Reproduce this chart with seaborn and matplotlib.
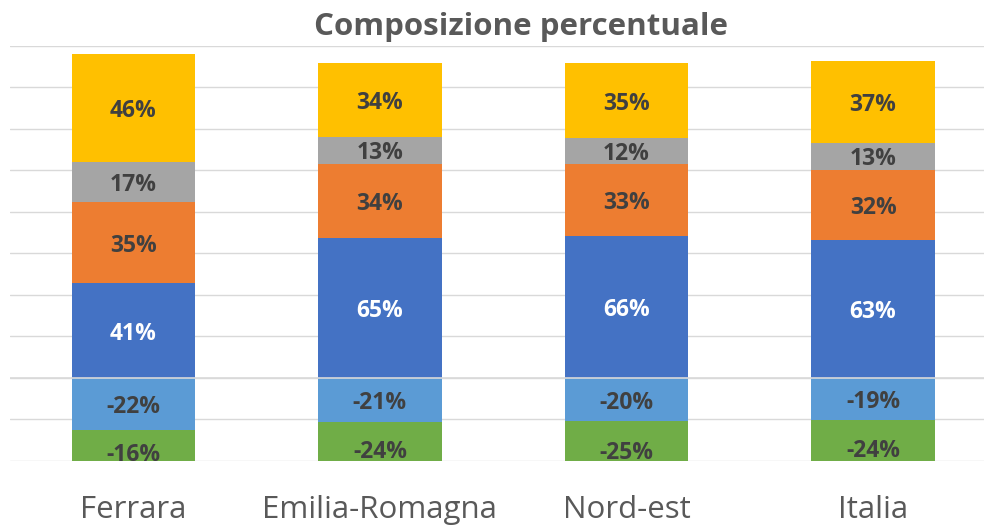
"""Composizione percentuale: barre impilate con parti positive e negative."""

import matplotlib
matplotlib.use("Agg")
import matplotlib.pyplot as plt
import numpy as np
import seaborn as sns

# dati (altezze delle barre, una griglia = 20)
categorie = ["Ferrara", "Emilia-Romagna", "Nord-est", "Italia"]
blu = [45.6, 67.5, 68.4, 66.6]
arancio = [38.9, 35.5, 34.5, 33.6]
grigio = [19.6, 13.2, 12.5, 13.0]
giallo = [51.9, 35.7, 36.1, 39.5]
azzurro = [-25.1, -21.5, -20.9, -20.6]
verde = [-20.9, -25.7, -27.3, -26.4]

# etichette mostrate sulle barre
lab_blu = ["41%", "65%", "66%", "63%"]
lab_arancio = ["35%", "34%", "33%", "32%"]
lab_grigio = ["17%", "13%", "12%", "13%"]
lab_giallo = ["46%", "34%", "35%", "37%"]
lab_azzurro = ["-22%", "-21%", "-20%", "-19%"]
lab_verde = ["-16%", "-24%", "-25%", "-24%"]

COL = {
    "blu": "#4472C4",
    "arancio": "#ED7D31",
    "grigio": "#A5A5A5",
    "giallo": "#FFC000",
    "azzurro": "#5B9BD5",
    "verde": "#70AD47",
}
TXT = "#404040"

sns.set_style("white")
plt.rcParams["font.family"] = ["Open Sans", "DejaVu Sans"]

W, H = 984, 526
fig = plt.figure(figsize=(W / 100, H / 100), dpi=100)
ax = fig.add_axes([10 / W, (H - 460.7) / H, 986.4 / W, 415.0 / H])

serie = [
    (blu, "blu", lab_blu, "white"),
    (arancio, "arancio", lab_arancio, TXT),
    (grigio, "grigio", lab_grigio, TXT),
    (giallo, "giallo", lab_giallo, TXT),
]
neg = [
    (azzurro, "azzurro", lab_azzurro, TXT),
    (verde, "verde", lab_verde, TXT),
]

# cumulati: si disegna dal totale verso il basso, ogni barra copre la successiva
pos_cum = np.cumsum([np.array(s[0]) for s in serie], axis=0)
neg_cum = np.cumsum([np.array(s[0]) for s in neg], axis=0)

for i in range(len(serie) - 1, -1, -1):
    sns.barplot(x=categorie, y=pos_cum[i], color=COL[serie[i][1]], width=0.5,
                saturation=1, errorbar=None, linewidth=0, ax=ax, zorder=2)
for i in range(len(neg) - 1, -1, -1):
    sns.barplot(x=categorie, y=neg_cum[i], color=COL[neg[i][1]], width=0.5,
                saturation=1, errorbar=None, linewidth=0, ax=ax, zorder=2)

# etichette al centro di ogni segmento
for cum, gruppo in ((pos_cum, serie), (neg_cum, neg)):
    for i, (vals, _, labs, c) in enumerate(gruppo):
        base = cum[i] - np.array(vals)
        for j, lab in enumerate(labs):
            ax.annotate(lab, (j, base[j] + vals[j] / 2), xytext=(0, -6.6),
                        textcoords="offset points", ha="center", va="baseline",
                        fontsize=16.5, fontweight="bold", color=c, zorder=4)

ax.set_ylim(-40, 160)
ax.set_xlim(-0.5, 3.5)
ax.set_yticks(np.arange(-40, 161, 20))
ax.yaxis.grid(True, color="#D9D9D9", linewidth=1.0, zorder=0)
ax.set_axisbelow(True)
ax.axhline(0, color="#D9D9D9", linewidth=1.2, zorder=3)
ax.tick_params(left=False, bottom=False, labelleft=False, labelbottom=False)
ax.set_xlabel("")
ax.set_ylabel("")
for s in ax.spines.values():
    s.set_visible(False)

for j, cat in enumerate(categorie):
    ax.text(j, -(518 - 460.7) / 415.0, cat, transform=ax.get_xaxis_transform(),
            ha="center", va="baseline", fontsize=22.5, color="#595959")

fig.text(521 / W, 1 - 35 / H, "Composizione percentuale", ha="center",
         va="baseline", fontsize=22.5, fontweight="bold", color="#595959")

fig.savefig("out.png", dpi=100)
